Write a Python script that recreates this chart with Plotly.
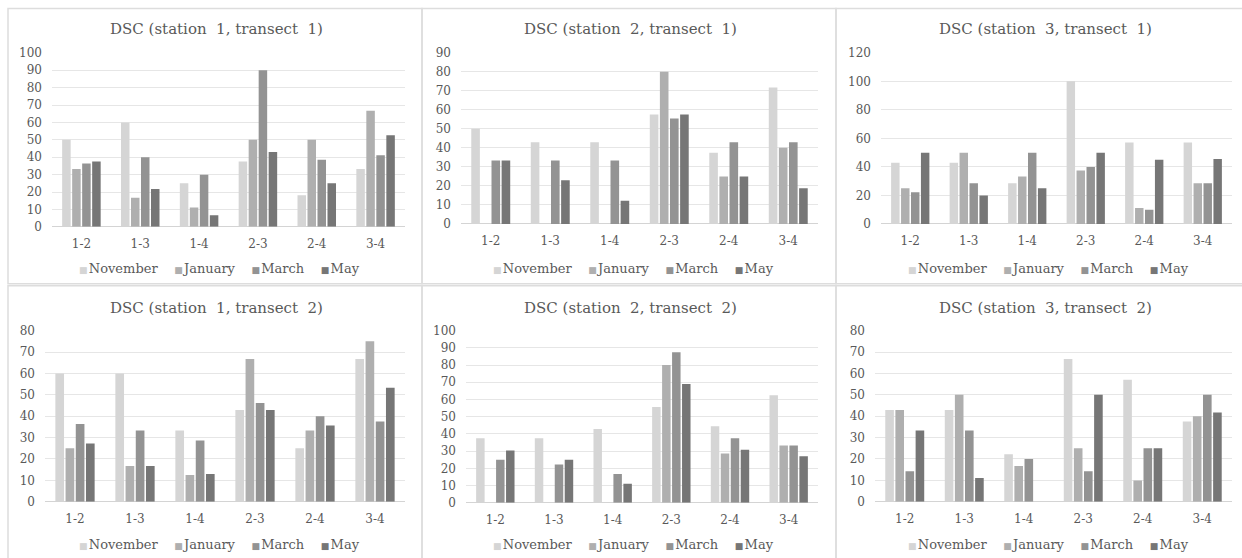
import plotly.graph_objects as go

W, H = 1242, 558

categories = ["1-2", "1-3", "1-4", "2-3", "2-4", "3-4"]
months = ["November", "January", "March", "May"]
colors = ["#d5d5d5", "#afafaf", "#939393", "#767676"]

titles = [
    "DSC (station&nbsp; 1, transect&nbsp; 1)",
    "DSC (station&nbsp; 2, transect&nbsp; 1)",
    "DSC (station&nbsp; 3, transect&nbsp; 1)",
    "DSC (station&nbsp; 1, transect&nbsp; 2)",
    "DSC (station&nbsp; 2, transect&nbsp; 2)",
    "DSC (station&nbsp; 3, transect&nbsp; 2)",
]

# station 1, transect 1
s1t1_nov = [50, 60, 25, 37.5, 18.2, 33.3]
s1t1_jan = [33.3, 16.7, 11.1, 50, 50, 66.7]
s1t1_mar = [36.4, 40, 30, 90, 38.5, 41.2]
s1t1_may = [37.5, 21.7, 6.7, 43, 25, 52.6]
# station 2, transect 1
s2t1_nov = [50, 43, 43, 57.5, 37.5, 71.8]
s2t1_jan = [0, 0, 0, 80, 25, 40]
s2t1_mar = [33.3, 33.3, 33.3, 55.5, 43, 43]
s2t1_may = [33.3, 23, 12.2, 57.5, 25, 18.7]
# station 3, transect 1
s3t1_nov = [42.9, 42.9, 28.6, 100, 57.1, 57.1]
s3t1_jan = [25, 50, 33.3, 37.5, 11.1, 28.6]
s3t1_mar = [22.2, 28.6, 50, 40, 10, 28.6]
s3t1_may = [50, 20, 25, 50, 45, 45.5]
# station 1, transect 2
s1t2_nov = [60, 60, 33.3, 42.9, 25, 66.7]
s1t2_jan = [25, 16.7, 12.5, 66.7, 33.3, 75]
s1t2_mar = [36.4, 33.3, 28.6, 46.2, 40, 37.5]
s1t2_may = [27.3, 16.7, 13, 42.9, 35.7, 53.3]
# station 2, transect 2
s2t2_nov = [37.5, 37.5, 42.9, 55.6, 44.4, 62.5]
s2t2_jan = [0, 0, 0, 80, 28.6, 33.3]
s2t2_mar = [25, 22.2, 16.7, 87.5, 37.5, 33.3]
s2t2_may = [30.4, 25, 11.1, 69, 30.8, 27]
# station 3, transect 2
s3t2_nov = [42.9, 42.9, 22.2, 66.7, 57.1, 37.5]
s3t2_jan = [42.9, 50, 16.7, 25, 10, 40]
s3t2_mar = [14.3, 33.3, 20, 14.3, 25, 50]
s3t2_may = [33.3, 11.1, 0, 50, 25, 41.7]

panels = [
    [s1t1_nov, s1t1_jan, s1t1_mar, s1t1_may],
    [s2t1_nov, s2t1_jan, s2t1_mar, s2t1_may],
    [s3t1_nov, s3t1_jan, s3t1_mar, s3t1_may],
    [s1t2_nov, s1t2_jan, s1t2_mar, s1t2_may],
    [s2t2_nov, s2t2_jan, s2t2_mar, s2t2_may],
    [s3t2_nov, s3t2_jan, s3t2_mar, s3t2_may],
]
y_max = [100, 90, 120, 80, 100, 80]
y_dtick = [10, 10, 20, 10, 10, 10]

# layout geometry in pixels (plot areas and frames)
plot_x = [(52, 405), (461, 818), (881, 1232), (45, 405), (466, 818), (875, 1232)]
plot_y = [(47, 225.5), (47, 222.5), (47, 222.5), (332, 507.5), (332, 508.5), (332, 507.5)]
frames = [(8, 1.5, 422, 284), (422, 1.5, 836, 284), (836, 1.5, 1250, 284),
          (8, 286, 422, 575), (422, 286, 836, 575), (836, 286, 1250, 575)]
title_y = [23, 23, 23, 309, 309, 309]
legend_y = [268, 268, 268, 551, 551, 551]

FONT = "DejaVu Serif, Liberation Serif, Times New Roman, serif"
TXT = "#595959"

def fx(px):
    return px / W

def fy(py):
    return 1 - py / H

fig = go.Figure()
layout = {}
annotations = []
shapes = []

for i, series in enumerate(panels):
    n = "" if i == 0 else str(i + 1)
    for m, vals, c in zip(months, series, colors):
        fig.add_trace(go.Bar(
            x=categories, y=vals, name=m, marker=dict(color=c, line=dict(width=0)),
            xaxis="x" + n, yaxis="y" + n, showlegend=False,
        ))
    layout["xaxis" + n] = dict(
        domain=[fx(plot_x[i][0]), fx(plot_x[i][1])], anchor="y" + n,
        showgrid=False, showline=False, zeroline=False, ticks="",
        tickfont=dict(family=FONT, size=12, color=TXT), ticklabelstandoff=8,
        fixedrange=True,
    )
    layout["yaxis" + n] = dict(
        domain=[fy(plot_y[i][1]), fy(plot_y[i][0])], anchor="x" + n,
        range=[0, y_max[i]], dtick=y_dtick[i], showgrid=True, gridcolor="#e6e6e6",
        gridwidth=1, zeroline=True, zerolinecolor="#d4d4d4", zerolinewidth=1,
        showline=False, ticks="", tickfont=dict(family=FONT, size=12, color=TXT),
        ticklabelstandoff=9, fixedrange=True,
    )
    x0, y0, x1, y1 = frames[i]
    cx = (x0 + x1) / 2 if i % 3 != 2 else 1044
    shapes.append(dict(type="rect", xref="paper", yref="paper",
                       x0=fx(x0), x1=fx(x1), y0=fy(y1), y1=fy(y0),
                       line=dict(color="#dddddd", width=1.5), layer="below"))
    annotations.append(dict(text=titles[i], xref="paper", yref="paper",
                            x=fx(cx + 1), y=fy(title_y[i]), xanchor="center", yanchor="middle",
                            showarrow=False, font=dict(family=FONT, size=15, color=TXT)))
    sq = "<span style='color:{c};font-size:9px'>■</span>"
    leg = "&nbsp;&nbsp;&nbsp;&nbsp;".join(
        sq.format(c=c) + "&#8202;" + m for m, c in zip(months, colors))
    annotations.append(dict(text=leg, xref="paper", yref="paper",
                            x=fx(cx + 4), y=fy(legend_y[i]), xanchor="center", yanchor="middle",
                            showarrow=False, font=dict(family=FONT, size=13, color=TXT)))

fig.update_layout(
    width=W, height=H, margin=dict(l=0, r=0, t=0, b=0),
    paper_bgcolor="white", plot_bgcolor="white",
    font=dict(family=FONT, color=TXT),
    barmode="group", bargap=0.32, bargroupgap=0.15,
    annotations=annotations, shapes=shapes, showlegend=False,
    **layout,
)

fig.write_html("out.html", config={"displayModeBar": False},
               post_script="document.body.style.margin='0px';")
